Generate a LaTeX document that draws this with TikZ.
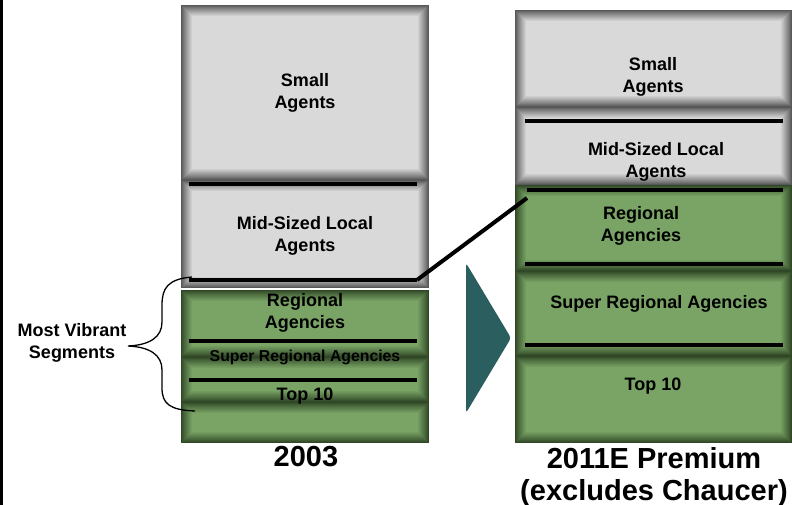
\documentclass[tikz,border=0pt]{standalone}
\usepackage{fontspec}
\setmainfont{Liberation Sans}
\definecolor{grayface}{RGB}{217,217,217}
\definecolor{grayedge}{RGB}{88,88,88}
\definecolor{greenface}{RGB}{121,164,101}
\definecolor{greenedge}{RGB}{48,72,38}
\definecolor{arrowteal}{RGB}{42,94,95}
% a flat box whose rim darkens towards its edges
\newcommand\bevelbox[6]{%
  \foreach \k in {0,...,11}{%
    \pgfmathtruncatemacro\mix{100*(\k/11)^0.9}%
    \fill[#6!\mix!#5] (#1+\k,#2+\k) rectangle (#3-\k,#4-\k);
  }}
\tikzset{
  seglabel/.style={align=center,inner sep=0pt,
    font=\bfseries\fontsize{18}{22}\selectfont},
  smalllabel/.style={align=center,inner sep=0pt,
    font=\bfseries\fontsize{15.8}{19}\selectfont},
  yearlabel/.style={align=center,inner sep=0pt,
    font=\bfseries\fontsize{29}{32}\selectfont},
  divider/.style={line width=4pt},
  link/.style={line width=4pt},
  bracepath/.style={line width=1.3pt}
}
\begin{document}
\begin{tikzpicture}[x=1pt,y=-1pt]
\useasboundingbox (0,0) rectangle (792,505);
\fill[white] (0,0) rectangle (792,505);
\fill[black] (0,0) rectangle (2.5,505);

% 2003 stack
\bevelbox{181}{5}{429}{180}{grayedge}{grayface}
\bevelbox{181}{180}{429}{288}{grayedge}{grayface}
\bevelbox{181}{290}{429}{357}{greenedge}{greenface}
\bevelbox{181}{357}{429}{402}{greenedge}{greenface}
\bevelbox{181}{402}{429}{443}{greenedge}{greenface}

% 2011E stack
\bevelbox{515}{10}{792}{107}{grayedge}{grayface}
\bevelbox{515}{107}{792}{185}{grayedge}{grayface}
\bevelbox{515}{185}{792}{271}{greenedge}{greenface}
\bevelbox{515}{271}{792}{356}{greenedge}{greenface}
\bevelbox{515}{356}{792}{443}{greenedge}{greenface}

% divider end points
\coordinate (la1) at (189,184); \coordinate (lb1) at (417,184);
\coordinate (la2) at (189,280); \coordinate (lb2) at (417,280);
\coordinate (la3) at (189,341); \coordinate (lb3) at (417,341);
\coordinate (la4) at (189,380); \coordinate (lb4) at (417,380);
\coordinate (ra1) at (525,121); \coordinate (rb1) at (783,121);
\coordinate (ra2) at (527,190); \coordinate (rb2) at (783,190);
\coordinate (ra3) at (525,264); \coordinate (rb3) at (783,264);
\coordinate (ra4) at (525,345); \coordinate (rb4) at (783,345);
\coordinate (linkend) at (527,198);

\foreach \i in {1,...,4}{
  \draw[divider] (la\i) -- (lb\i);
  \draw[divider] (ra\i) -- (rb\i);
}
\draw[link] (lb2) -- (linkend);

% segment labels, 2003
\node[seglabel] (lsmall) at (305,92.5) {Small\\Agents};
\node[seglabel] (lmid) at (305,236) {Mid-Sized Local\\Agents};
\node[seglabel] (lreg) at (305,313) {Regional\\Agencies};
\node[smalllabel] (lsuper) at (305,357.5) {Super Regional Agencies};
\node[seglabel] (ltop) at (305,396) {Top 10};
\node[yearlabel] (lyear) at (306,457) {2003};

% segment labels, 2011E
\node[seglabel] (rsmall) at (653,76.5) {Small\\Agents};
\node[seglabel] (rmid) at (656,162) {Mid-Sized Local\\Agents};
\node[seglabel] (rreg) at (641,226) {Regional\\Agencies};
\node[seglabel] (rsuper) at (659,304) {Super Regional Agencies};
\node[seglabel] (rtop) at (653,386) {Top 10};
\node[yearlabel] (ryear) at (654,476.5) {2011E Premium\\(excludes Chaucer)};

% arrow between the stacks
\fill[arrowteal,rounded corners=3pt] (466,263) -- (511,338) -- (466,413) -- cycle;

% brace and its label
\node[seglabel] (vibrant) at (72,343) {Most Vibrant\\Segments};
\coordinate (btop) at (192,277);
\coordinate (btip) at (128,346);
\coordinate (bbot) at (195,411);
\draw[bracepath] (btop) .. controls (168,279) and (162,288) .. (162,305)
  -- (162,322) .. controls (162,337) and (150,345) .. (btip)
  .. controls (150,347) and (162,355) .. (162,370)
  -- (162,388) .. controls (162,404) and (170,410) .. (bbot);
\end{tikzpicture}
\end{document}
